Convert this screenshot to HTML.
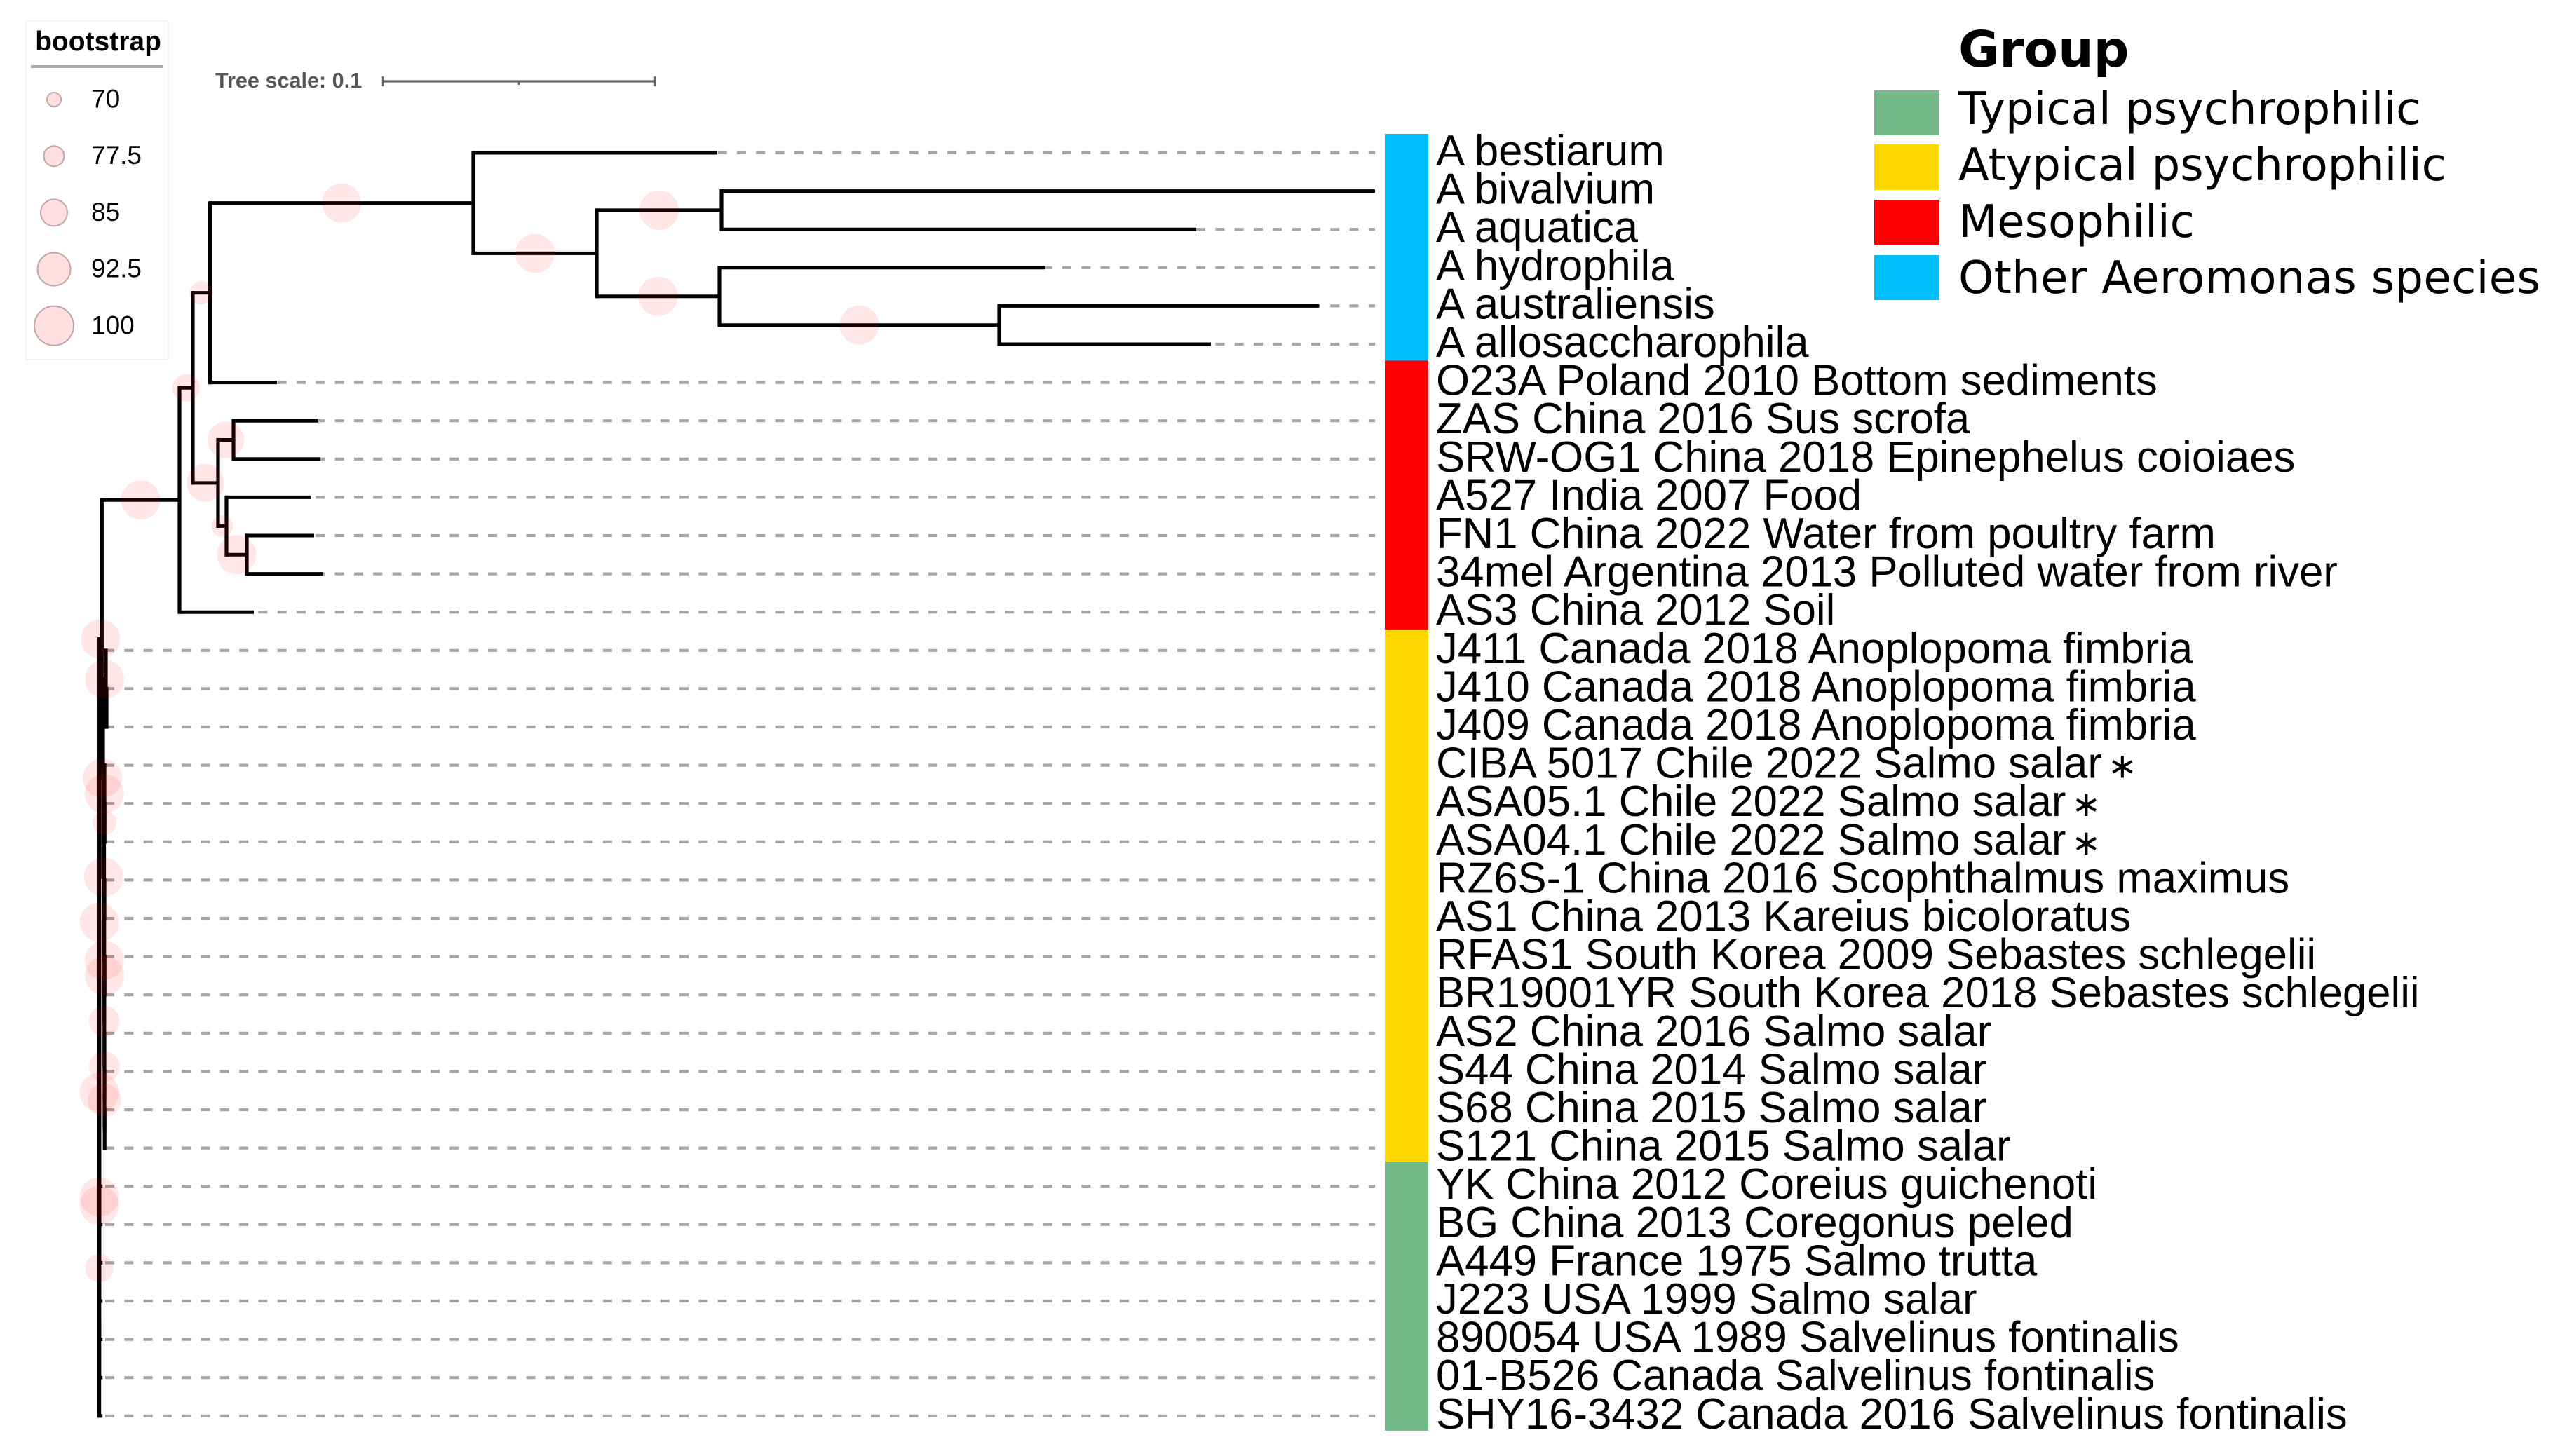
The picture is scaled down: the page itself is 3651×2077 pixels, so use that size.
<!DOCTYPE html>
<html lang="en">
<head>
<meta charset="utf-8">
<title>Aeromonas phylogenetic tree</title>
<style>
html,body{margin:0;padding:0;background:#fff;}
#chart{display:block;width:3651px;height:2077px;font-family:"Liberation Sans",sans-serif;}
</style>
</head>
<body>
<svg id="chart" xmlns="http://www.w3.org/2000/svg" width="3651" height="2077" viewBox="0 0 3651 2077">
  <rect x="0" y="0" width="3651" height="2077" fill="#ffffff"/>

  <g>
    <rect x="37" y="30" width="203" height="483" fill="#ffffff" stroke="#f4f4f4" stroke-width="2"/>
    <text x="140" y="72" font-size="39" font-weight="700" text-anchor="middle" fill="#000">bootstrap</text>
    <line x1="44" x2="232" y1="95" y2="95" stroke="#aaaaaa" stroke-width="4"/>
    <g id="bootstrapLegendEntries"></g>
  </g>

  <g>
    <text x="307" y="125" font-size="30.6" font-weight="700" fill="#555">Tree scale: 0.1</text>
    <g id="scaleBar"></g>
  </g>

  <g id="dashes"></g>
  <g id="branches"></g>
  <g id="supports"></g>
  <g id="strip"></g>
  <g id="labels"></g>

  <g font-family="'DejaVu Sans',sans-serif">
    <text x="2793" y="95" font-size="71" font-weight="700" fill="#000">Group</text>
    <rect x="2673" y="129" width="92" height="64" fill="#74b98a"/>
    <text x="2793" y="177" font-size="64" fill="#000">Typical psychrophilic</text>
    <rect x="2673" y="206" width="92" height="65" fill="#ffd700"/>
    <text x="2793" y="257" font-size="64" fill="#000" letter-spacing="-0.1">Atypical psychrophilic</text>
    <rect x="2673" y="285" width="92" height="64" fill="#ff0000"/>
    <text x="2793" y="338" font-size="64" fill="#000">Mesophilic</text>
    <rect x="2673" y="364" width="92" height="64" fill="#00bfff"/>
    <text x="2793" y="418" font-size="64" fill="#000" letter-spacing="0.35">Other Aeromonas species</text>
  </g>
</svg>

<script>
// ---- data ----
const leafNames = [
  "A bestiarum","A bivalvium","A aquatica","A hydrophila","A australiensis","A allosaccharophila",
  "O23A Poland 2010 Bottom sediments","ZAS China 2016 Sus scrofa","SRW-OG1 China 2018 Epinephelus coioiaes",
  "A527 India 2007 Food","FN1 China 2022 Water from poultry farm","34mel Argentina 2013 Polluted water from river",
  "AS3 China 2012 Soil",
  "J411 Canada 2018 Anoplopoma fimbria","J410 Canada 2018 Anoplopoma fimbria","J409 Canada 2018 Anoplopoma fimbria",
  "CIBA 5017 Chile 2022 Salmo salar","ASA05.1 Chile 2022 Salmo salar","ASA04.1 Chile 2022 Salmo salar",
  "RZ6S-1 China 2016 Scophthalmus maximus","AS1 China 2013 Kareius bicoloratus",
  "RFAS1 South Korea 2009 Sebastes schlegelii","BR19001YR South Korea 2018 Sebastes schlegelii",
  "AS2 China 2016 Salmo salar","S44 China 2014 Salmo salar","S68 China 2015 Salmo salar","S121 China 2015 Salmo salar",
  "YK China 2012 Coreius guichenoti","BG China 2013 Coregonus peled","A449 France 1975 Salmo trutta",
  "J223 USA 1999 Salmo salar","890054 USA 1989 Salvelinus fontinalis","01-B526 Canada Salvelinus fontinalis",
  "SHY16-3432 Canada 2016 Salvelinus fontinalis"
];
// divergence from root (substitutions per site)
const leafDepths = [
  .22716,.46892,.40321,.34753,.44835,.40861,
  .06531,.08026,.08129,.07768,.07897,.08206,.05680,
  .00294,.00294,.00294,.00216,.00216,.00216,.00216,.00216,.00216,.00216,.00216,.00216,.00216,.00216,
  .00120,.00120,.00120,.00120,.00120,.00120,.00120
];
const starredLeaves = [16,17,18];
const groupNames = ["other-aeromonas","mesophilic","atypical-psychrophilic","typical-psychrophilic"];
const groupCounts = [6,7,14,7];
const groupColors = ["#00bfff","#ff0000","#ffd700","#74b98a"];

const nodeIds = ['H','G','F','E','D','C','J','L','K','I','B','A','N4','N3','N8','N7','RA','RB','Wa','Wb','Wc','Wd','We','N6','N2','N1','Y1','P','T1','T2','T3','T4','T5'];
const nodeChildren = [[4,5],[3,'H'],[1,2],['F','G'],[0,'E'],['D',6],[7,8],[10,11],[9,'L'],['J','K'],['C','I'],['B',12],
  [14,15],[13,'N4'],[17,18],[16,'N8'],[19,20],[21,22],[25,26],[24,'Wa'],[23,'Wb'],['RB','Wc'],['RA','Wd'],['N7','We'],['N3','N6'],['A','N2'],
  [27,28],['N1','Y1'],['P',29],['T1',30],['T2',31],['T3',32],['T4',33]];
const nodeDepths = [.33077,.22794,.22871,.18284,.13747,.04070,.04933,.05423,.04675,.04366,.03438,.02948,
  .00268,.00242,.00196,.00191,.00191,.00196,.00196,.00191,.00191,.00186,.00183,.00178,.00139,.00095,
  .00003,.00001,.00001,.00001,.00001,.00001,0];
const nodeSupport = [100,100,100,100,100,81,97,100,79,98,86,100,
  null,100,82,100,null,100,null,93,90,90,100,100,100,100,
  100,100,100,100,87,null,null];

const legendValues = [70,77.5,85,92.5,100];
const scaleTicks = [0,0.05,0.1];

// ---- axis functions ----
const NS = "http://www.w3.org/2000/svg";
const xScale = d => 141.6 + d * 3880;
const rowY = i => 218 + i * 54.6;
const radius = v => 10 + (v - 70) * 0.6;
const stripY = i => 191 + i * 54.41;
const stripEdgeShift = g => (g % 2 === 1 ? -3 : 0);
const GUIDE_END = 1961;
const DASH_ON = 13, DASH_PERIOD = 27.3, DASH_ORIGIN = 150;

function make(tag, parent, attrs, text) {
  const el = document.createElementNS(NS, tag);
  for (const k in attrs) el.setAttribute(k, attrs[k]);
  if (text !== undefined) el.textContent = text;
  parent.appendChild(el);
  return el;
}

// ---- tree layout ----
const yOf = {}, xOf = {}, parentOf = {};
leafNames.forEach((n, i) => { yOf[i] = rowY(i); xOf[i] = xScale(leafDepths[i]); });
nodeIds.forEach((id, i) => {
  const kids = nodeChildren[i];
  yOf[id] = (yOf[kids[0]] + yOf[kids[kids.length - 1]]) / 2;
  xOf[id] = xScale(nodeDepths[i]);
  kids.forEach(k => { parentOf[k] = id; });
});

// ---- guide lines ----
const dashes = document.getElementById("dashes");
leafNames.forEach((n, i) => {
  if (xOf[i] >= GUIDE_END) return;
  const offset = (xOf[i] - DASH_ORIGIN) % DASH_PERIOD;
  const el = make("line", dashes, {
    x1: xOf[i], x2: GUIDE_END, y1: rowY(i), y2: rowY(i),
    stroke: "#a6a6a6", "stroke-width": 4.2,
    "stroke-dasharray": DASH_ON + " " + (DASH_PERIOD - DASH_ON),
    "stroke-dashoffset": offset
  });
  
  
});

// ---- branches ----
const branches = document.getElementById("branches");
function horizontal(key) {
  if (parentOf[key] === undefined) return;
  const el = make("line", branches, {
    x1: xOf[parentOf[key]], x2: xOf[key], y1: yOf[key], y2: yOf[key],
    stroke: "#000", "stroke-width": 5
  });
  
  
}
leafNames.forEach((n, i) => horizontal(i));
nodeIds.forEach((id, i) => {
  horizontal(id);
  const kids = nodeChildren[i];
  const el = make("line", branches, {
    x1: xOf[id], x2: xOf[id], y1: yOf[kids[0]], y2: yOf[kids[kids.length - 1]],
    stroke: "#000", "stroke-width": 5.2, "stroke-linecap": "square"
  });
  
  
});

// ---- bootstrap markers ----
const supports = document.getElementById("supports");
nodeIds.forEach((id, i) => {
  const v = nodeSupport[i];
  if (v === null || parentOf[id] === undefined) return;
  const el = make("circle", supports, {
    cx: (xOf[id] + xOf[parentOf[id]]) / 2, cy: yOf[id], r: radius(v),
    fill: "#ff0000", "fill-opacity": 0.095
  });
  
  
});

// ---- colour strip ----
const strip = document.getElementById("strip");
let cursor = 0;
groupCounts.forEach((c, g) => {
  const top = stripY(cursor) + stripEdgeShift(g);
  const bottom = stripY(cursor + c) + stripEdgeShift(g + 1);
  const el = make("rect", strip, {
    x: 1975, width: 62, y: top, height: bottom - top,
    fill: groupColors[g]
  });
  
  
  cursor += c;
});

// ---- leaf labels ----
const labels = document.getElementById("labels");
leafNames.forEach((n, i) => {
  const t = make("text", labels, {
    x: 2048, y: rowY(i) + 18, "font-size": 61.7, fill: "#000"
  }, n);
  
  
  if (starredLeaves.indexOf(i) >= 0) {
    const s = make("tspan", t, {
      dx: 8, "font-family": "'DejaVu Sans',sans-serif", "font-size": 50, "font-weight": 400
    }, "\u2217");
    
    
  }
});

// ---- bootstrap legend ----
const legendGroup = document.getElementById("bootstrapLegendEntries");
legendValues.forEach((v, i) => {
  const cy = 142 + i * 80.7;
  const c = make("circle", legendGroup, {
    cx: 77, cy: cy, r: radius(v), fill: "#ffdfdf", stroke: "#c4a6a6", "stroke-width": 2
  });
  
  
  const t = make("text", legendGroup, {
    x: 130, y: cy + 11.5, "font-size": 37, fill: "#000"
  }, String(v));
  
  
});

// ---- scale bar ----
const scaleBar = document.getElementById("scaleBar");
const scaleX = v => 546 + v * 3880;
const barLine = make("line", scaleBar, {
  x1: scaleX(scaleTicks[0]), x2: scaleX(scaleTicks[2]), y1: 116, y2: 116, stroke: "#666", "stroke-width": 3.2
});


scaleTicks.forEach((v, i) => {
  const mid = i === 1;
  const tick = make("line", scaleBar, {
    x1: scaleX(v), x2: scaleX(v), y1: mid ? 116 : 109, y2: mid ? 121 : 123, stroke: "#666", "stroke-width": 2.5
  });
  
  
});
</script>
</body>
</html>
